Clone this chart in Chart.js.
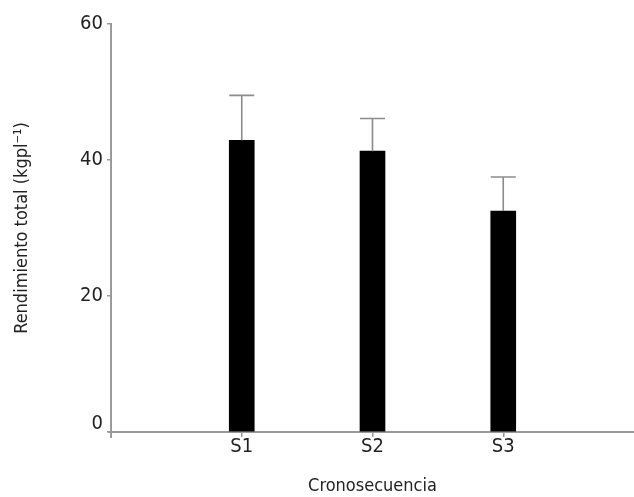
<!DOCTYPE html>
<html><head><meta charset="utf-8">
<script src="https://cdn.jsdelivr.net/npm/chart.js@4"></script>
<style>html,body{margin:0;padding:0;background:#fff}#wrap{width:634px;height:497px;position:relative}</style>
</head><body><div id="wrap"><canvas id="c"></canvas></div>
<script>
const categories = ['S1', 'S2', 'S3'];
const means = [42.9, 41.3, 32.5];
const errors = [6.6, 4.8, 5.0];
const yTickValues = [0, 20, 40, 60];
const yTitle = 'Rendimiento total (kgpl\u207B\u00B9)';
const xTitle = 'Cronosecuencia';

const FONT = "'Liberation Sans Narrow', 'DejaVu Sans Condensed', 'Liberation Sans', sans-serif";
const AXIS = '#9a9a9a';
const TEXT = '#222222';

const errorBars = {
  id: 'errorBars',
  afterDatasetsDraw(chart) {
    const { ctx, scales: { y } } = chart;
    const meta = chart.getDatasetMeta(0);
    ctx.save();
    ctx.strokeStyle = '#8c8c8c';
    ctx.lineWidth = 1.6;
    meta.data.forEach((bar, i) => {
      const xp = bar.x;
      const top = y.getPixelForValue(means[i] + errors[i]);
      const base = y.getPixelForValue(means[i]);
      const half = bar.width / 2;
      ctx.beginPath();
      ctx.moveTo(xp, base); ctx.lineTo(xp, top);
      ctx.moveTo(xp - half, top); ctx.lineTo(xp + half, top);
      ctx.stroke();
    });
    ctx.restore();
  }
};

const axisExtras = {
  id: 'axisExtras',
  afterDraw(chart) {
    const { ctx, chartArea: a } = chart;
    ctx.save();
    ctx.strokeStyle = AXIS;
    ctx.lineWidth = 2;
    ctx.beginPath();
    ctx.moveTo(a.left, a.bottom); ctx.lineTo(a.left, a.bottom + 6);
    ctx.moveTo(a.left - 3, a.bottom); ctx.lineTo(a.left, a.bottom);
    ctx.stroke();
    ctx.restore();
  }
};

new Chart(document.getElementById('c'), {
  type: 'bar',
  data: {
    datasets: [{
      data: means.map((m, i) => ({ x: i + 1, y: m })),
      backgroundColor: '#000000',
      borderWidth: 0,
      barThickness: 25
    }]
  },
  options: {
    responsive: true,
    maintainAspectRatio: false,
    animation: false,
    layout: { padding: { top: 24, right: 0, bottom: 0, left: 0 } },
    plugins: { legend: { display: false }, tooltip: { enabled: false } },
    scales: {
      x: {
        type: 'linear',
        min: 0,
        max: 4,
        offset: false,
        afterBuildTicks: (axis) => { axis.ticks = categories.map((c, i) => ({ value: i + 1 })); },
        afterFit: (s) => { s.height = 65; },
        grid: { display: true, offset: false, drawOnChartArea: false, drawTicks: true, tickLength: 5, color: AXIS, lineWidth: 1.5 },
        border: { display: true, color: AXIS, width: 2 },
        ticks: {
          autoSkip: false,
          maxRotation: 0,
          padding: -2,
          color: TEXT,
          font: { family: FONT, size: 20 },
          callback: (v) => categories[Math.round(v) - 1] || ''
        },
        title: {
          display: true, text: xTitle, color: TEXT,
          font: { family: FONT, size: 18, lineHeight: 1.2 },
          padding: { top: 0, bottom: 0 }
        }
      },
      y: {
        min: 0,
        max: 60,
        afterBuildTicks: (axis) => { axis.ticks = yTickValues.map(v => ({ value: v })); },
        afterFit: (s) => { s.width = 111; },
        grid: { display: true, drawOnChartArea: false, drawTicks: true, tickLength: 4, color: AXIS, lineWidth: 1.5 },
        border: { display: true, color: AXIS, width: 2 },
        ticks: {
          padding: 4,
          color: TEXT,
          font: { family: FONT, size: 20, lineHeight: 0.85 },
          callback: (v) => (v === 0 ? ['0', ''] : String(v))
        },
        title: {
          display: true, text: yTitle, color: TEXT,
          font: { family: FONT, size: 18, lineHeight: 1.2 },
          padding: { top: 12, bottom: 0 }
        }
      }
    }
  },
  plugins: [errorBars, axisExtras]
});
</script>
</body></html>
